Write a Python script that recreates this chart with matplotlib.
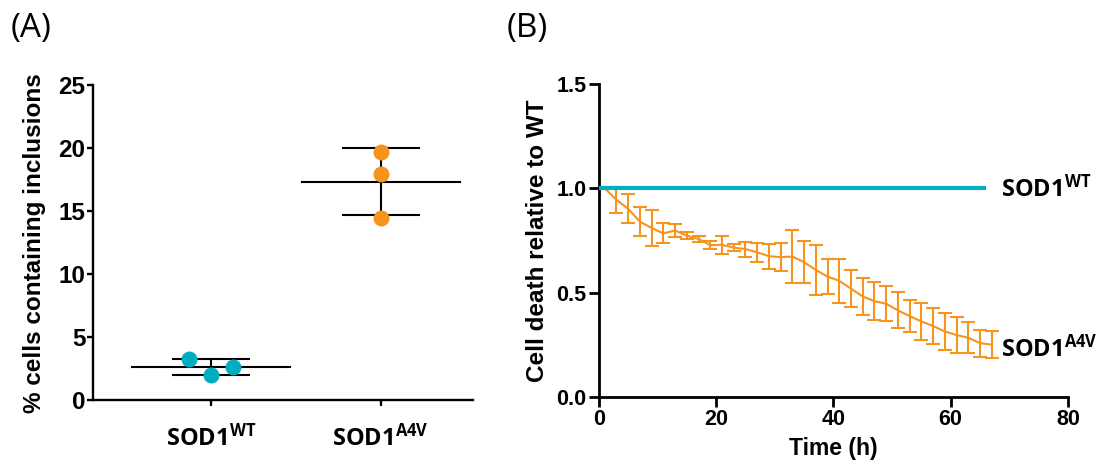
import matplotlib
matplotlib.use("Agg")
import matplotlib.pyplot as plt

plt.rcParams['font.family'] = ['Liberation Sans', 'DejaVu Sans']
plt.rcParams['font.weight'] = 'bold'
plt.rcParams['axes.labelweight'] = 'bold'
plt.rcParams['mathtext.fontset'] = 'custom'
plt.rcParams['mathtext.rm'] = 'Open Sans'
plt.rcParams['mathtext.bf'] = 'Open Sans:bold'

CYAN = '#00adc2'
ORANGE = '#f7941d'

# panel A: % cells containing inclusions
groups = [r'$\mathbf{SOD1^{WT}}$', r'$\mathbf{SOD1^{A4V}}$']
wt_points = [3.23, 1.98, 2.65]
a4v_points = [19.66, 17.91, 14.47]
wt_jitter = [-0.128, 0.0, 0.128]
a4v_jitter = [0.0, 0.0, 0.0]

# panel B: cell death relative to WT over time
hours = [1, 3, 5, 7, 9, 11, 13, 15, 17, 19, 21, 23, 25, 27, 29, 31, 33,
         35, 37, 39, 41, 43, 45, 47, 49, 51, 53, 55, 57, 59, 61, 63, 65, 67]
a4v_mean = [1.00, 0.945, 0.902, 0.84, 0.81, 0.784, 0.798, 0.773, 0.757,
            0.728, 0.729, 0.716, 0.709, 0.693, 0.675, 0.67, 0.673, 0.646,
            0.609, 0.577, 0.557, 0.519, 0.482, 0.459, 0.447, 0.415, 0.388,
            0.362, 0.34, 0.314, 0.297, 0.284, 0.258, 0.251]
a4v_err = [0.0, 0.063, 0.07, 0.07, 0.088, 0.048, 0.031, 0.018, 0.013,
           0.02, 0.042, 0.016, 0.036, 0.045, 0.06, 0.068, 0.127, 0.1,
           0.118, 0.082, 0.106, 0.09, 0.089, 0.09, 0.084, 0.086, 0.078,
           0.087, 0.085, 0.088, 0.088, 0.074, 0.065, 0.066]
wt_x = [0, 66]
wt_y = [1.0, 1.0]


def mean_sd(vals):
    m = sum(vals) / len(vals)
    sd = (sum((v - m) ** 2 for v in vals) / (len(vals) - 1)) ** 0.5
    return m, sd


def bold_ticks(ax, size):
    for lab in ax.get_xticklabels() + ax.get_yticklabels():
        lab.set_fontweight('bold')
        lab.set_fontsize(size)


fig = plt.figure(figsize=(11.07, 4.73), dpi=100)

# ---- panel A
ax1 = fig.add_axes([0.084, 0.154, 0.343, 0.666])
for i, (pts, jit, col) in enumerate([(wt_points, wt_jitter, CYAN),
                                     (a4v_points, a4v_jitter, ORANGE)]):
    m, sd = mean_sd(pts)
    ax1.plot([i - 0.465, i + 0.465], [m, m], color='black', lw=1.5, zorder=2)
    ax1.errorbar([i], [m], yerr=[sd], color='black', lw=1.5, capsize=28,
                 capthick=1.5, zorder=2)
    ax1.plot([i + j for j in jit], pts, 'o', color=col, ms=11.5,
             markeredgewidth=0, zorder=3)

ax1.set_xlim(-0.694, 1.541)
ax1.set_ylim(0, 25)
ax1.set_yticks([0, 5, 10, 15, 20, 25])
ax1.set_xticks([0, 1])
ax1.set_xticklabels(groups)
bold_ticks(ax1, 17.5)
ax1.get_xticklabels()[0].set_fontsize(17)
ax1.get_xticklabels()[1].set_fontsize(17)
ax1.set_ylabel('% cells containing inclusions', fontsize=17.5, labelpad=9)
ax1.tick_params(axis='y', length=4.5, width=1.7, pad=1)
ax1.tick_params(axis='x', length=4, width=1.7, pad=13)
for s in ['top', 'right']:
    ax1.spines[s].set_visible(False)
for s in ['left', 'bottom']:
    ax1.spines[s].set_linewidth(1.7)

# ---- panel B
ax2 = fig.add_axes([0.541, 0.1607, 0.4237, 0.6617])
ax2.plot(wt_x, wt_y, color=CYAN, lw=3, solid_capstyle='butt', zorder=3)
ax2.errorbar(hours, a4v_mean, yerr=a4v_err, color=ORANGE, lw=1.5,
             elinewidth=1.5, capsize=4.7, capthick=1.5, zorder=2)
ax2.text(68.6, 1.0, r'$\mathbf{SOD1^{WT}}$', fontsize=17, va='center',
         ha='left')
ax2.text(68.6, 0.235, r'$\mathbf{SOD1^{A4V}}$', fontsize=17, va='center',
         ha='left')
ax2.set_xlim(0, 80)
ax2.set_ylim(0, 1.5)
ax2.set_xticks([0, 20, 40, 60, 80])
ax2.set_yticks([0.0, 0.5, 1.0, 1.5])
ax2.set_yticklabels(['0.0', '0.5', '1.0', '1.5'])
bold_ticks(ax2, 15.5)
ax2.set_xlabel('Time (h)', fontsize=16.5, labelpad=5)
ax2.set_ylabel('Cell death relative to WT', fontsize=17.5, labelpad=5)
ax2.tick_params(length=7, width=2, pad=2)
for s in ['top', 'right']:
    ax2.spines[s].set_visible(False)
for s in ['left', 'bottom']:
    ax2.spines[s].set_linewidth(2)

fig.text(0.010, 0.975, '(A)', fontsize=24, fontweight='normal',
         family='Open Sans', va='top', ha='left')
fig.text(0.458, 0.975, '(B)', fontsize=24, fontweight='normal',
         family='Open Sans', va='top', ha='left')

fig.savefig('out.png', dpi=100)
